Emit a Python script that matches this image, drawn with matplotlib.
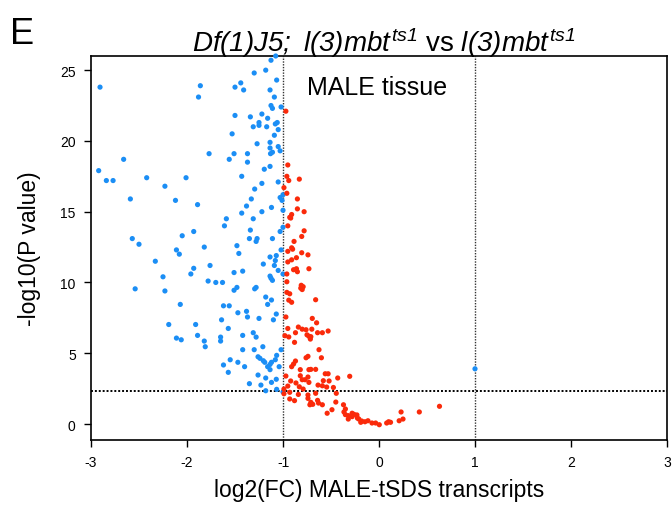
import matplotlib
matplotlib.use("Agg")
import matplotlib.pyplot as plt

plt.rcParams['font.family'] = ['Liberation Sans', 'DejaVu Sans']
plt.rcParams['mathtext.fontset'] = 'custom'
plt.rcParams['mathtext.it'] = 'Liberation Sans:italic'
plt.rcParams['mathtext.rm'] = 'Liberation Sans:italic'

# ---- data ----
down_x = [-1.076, -1.125, -1.18, -1.30, -1.066, -2.906, -1.861, -1.44, -1.50, -1.41, -1.88, -1.135, -1.09,
          -1.125, -1.11, -1.02, -1.50, -1.34, -1.22, -1.16, -1.08, -1.06, -1.25, -1.25, -1.31, -1.17, -1.05,
          -1.53, -1.09, -1.27, -1.135, -1.05, -1.03, -1.135, -1.11, -1.13, -1.77, -1.51, -1.37, -2.66, -1.56,
          -1.37, -2.92, -1.135, -1.195, -2.84, -2.77, -2.42, -2.01, -1.43, -1.05, -1.22, -2.23, -1.295, -1.0,
          -2.59, -2.12, -1.03, -1.01, -1.33, -1.89, -1.38, -1.12, -1.0, -1.43, -1.22, -1.59, -1.31, -1.61,
          -1.00, -1.93, -1.34, -1.03,
          -2.57, -2.50, -2.05, -1.35, -1.28, -1.27, -1.11, -1.02, -1.82, -2.11, -2.08, -1.48, -1.46, -1.07,
          -1.08, -1.135, -2.33, -1.205, -1.09, -1.76, -1.93, -1.05, -1.96, -1.51, -1.42, -1.00, -2.25, -1.135,
          -1.125, -1.11, -1.78, -1.70, -1.63, -2.54, -2.23, -1.51, -1.48, -1.295, -1.28, -1.18, -1.12, -1.16,
          -2.07, -1.62, -1.56, -1.47, -1.38, -1.37, -1.07, -1.25, -1.10, -1.64, -2.19, -1.91, -1.57, -1.31,
          -1.28, -1.89, -1.42, -1.65, -1.65, -2.11, -2.06, -1.82, -1.81, -1.21, -1.42, -1.30, -1.02, -1.066,
          -1.08, -1.26, -1.24, -1.205, -1.19, -1.12, -1.135, -1.16, -1.135, -1.55, -1.47, -1.40, -1.62, -1.57,
          -1.04, -1.26, -1.18, -1.07, -1.12, -1.35, -1.23, -1.18, -1.066, -1.00, 1.0]
down_y = [26.0, 25.7, 25.0, 24.8, 24.3, 23.8, 23.9, 24.1, 23.8, 23.6, 23.1, 23.6, 23.1,
          22.5, 22.3, 22.4, 21.8, 21.7, 21.9, 21.6, 21.2, 21.3, 21.3, 21.1, 21.0, 21.0, 20.8,
          20.5, 20.4, 19.8, 19.9, 19.6, 19.3, 19.5, 19.2, 19.1, 19.1, 19.1, 19.1, 18.7, 18.7,
          18.5, 17.9, 18.2, 18.0, 17.2, 17.2, 17.4, 17.4, 17.5, 17.1, 17.0, 16.8, 16.6, 16.2,
          15.9, 15.8, 16.0, 15.8, 15.9, 15.5, 15.4, 15.3, 15.1, 14.9, 15.0, 14.5, 14.5, 14.0,
          13.9, 13.6, 13.7, 13.6,
          13.1, 12.7, 13.3, 13.1, 12.9, 13.1, 13.1, 12.3, 12.5, 12.3, 12.0, 12.6, 12.05, 11.9,
          11.55, 11.8, 11.5, 11.3, 11.2, 11.2, 11.0, 10.85, 10.6, 10.7, 10.8, 10.6, 10.4, 10.45,
          10.3, 10.15, 10.1, 10.0, 10.0, 9.55, 9.4, 9.45, 9.65, 9.55, 9.65, 8.97, 8.76, 8.45,
          8.45, 8.35, 8.35, 7.86, 7.96, 7.56, 7.77, 7.46, 7.36, 7.36, 7.03, 7.03, 6.75, 6.45,
          6.14, 6.26, 6.26, 6.14, 5.86, 6.07, 5.95, 5.86, 5.46, 5.46, 5.25, 5.25, 5.25, 4.85,
          4.54, 4.75, 4.64, 4.47, 4.36, 4.36, 4.21, 4.05, 3.84, 4.54, 4.36, 4.05, 4.17, 3.65,
          4.05, 3.46, 3.25, 3.16, 2.94, 2.85, 2.75, 2.35, 2.45, 2.26, 3.9]

up_x = [-0.97, -0.95, -0.96, -0.83, -0.94, -0.99, -0.96, -0.85, -0.93, -0.91, -0.92, -0.85, -0.78, -0.95,
        -0.78, -0.805, -0.885, -0.91,
        -0.90, -0.95, -0.805, -0.74, -0.86, -0.91, -0.95, -0.73, -0.89, -0.86, -0.85, -0.96, -0.96, -0.81,
        -0.815, -0.79, -0.80, -0.96, -0.93, -0.94, -0.91, -0.66, -0.97, -0.695, -0.65, -0.95, -0.84, -0.80,
        -0.76, -0.70, -0.64, -0.59, -0.53, -0.87, -0.75, -0.73, -0.715, -0.71, -0.98, -0.94, -0.88, -0.625,
        -0.76, -0.74, -0.60, -0.87, -0.89, -0.91, -0.82, -0.73, -0.71, -0.66, -0.97, -0.82, -0.74, -0.80,
        -0.77, -0.73, -0.865, -0.92, -0.56, -0.53, -0.43, -0.305, -0.58, -0.52, -0.635, -0.59, -0.545, -0.95,
        -0.99, -0.83, -0.79, -0.475, -0.93, -0.99, -0.84, -0.74, -0.66, -0.445, -0.93, -0.88, -0.74, -0.71,
        -0.69, -0.64, -0.63, -0.45, -0.59, -0.72, -0.37, -0.49, -0.35, -0.365, -0.54, -0.35, -0.32, -0.28,
        -0.26, -0.23, -0.28, -0.225, -0.21, -0.32, -0.18, -0.146, -0.115, -0.19, -0.073, -0.035, 0.003, 0.08,
        0.10, 0.12, 0.21, 0.25, 0.23, 0.42, 0.63]
up_y = [22.1, 18.3, 17.5, 17.3, 17.2, 16.7, 16.3, 15.9, 14.6, 14.8, 14.55, 15.2, 15.0, 14.0,
        13.65, 13.25, 12.9, 12.45,
        12.35, 12.2, 12.1, 11.95, 11.75, 11.6, 11.45, 10.97, 10.9, 10.97, 10.76, 10.6, 10.05, 9.8,
        9.6, 9.7, 9.5, 9.3, 9.2, 8.75, 8.6, 8.78, 7.56, 7.46, 7.15, 6.75, 6.85, 6.7,
        6.66, 6.7, 6.45, 6.45, 6.57, 6.45, 6.3, 6.2, 6.0, 6.17, 6.24, 6.15, 5.77, 5.25,
        4.68, 4.78, 4.68, 4.45, 4.24, 4.05, 3.84, 3.84, 3.86, 3.86, 3.39, 3.41, 3.32, 3.13,
        3.13, 2.94, 2.9, 3.04, 3.55, 3.55, 3.25, 3.37, 3.06, 3.04, 2.75, 2.70, 2.61, 2.68,
        2.47, 2.63, 2.47, 2.58, 2.24, 2.14, 2.09, 2.05, 2.17, 2.17, 1.77, 1.65, 1.81, 1.53,
        1.39, 1.67, 1.48, 1.55, 1.36, 1.36, 1.36, 1.01, 1.06, 0.85, 0.76, 0.66, 0.59, 0.76,
        0.68, 0.64, 0.52, 0.42, 0.35, 0.35, 0.21, 0.16, 0.23, 0.12, 0.07, 0.07, -0.05, 0.07,
        0.16, 0.12, 0.23, 0.35, 0.85, 0.85, 1.25]

x_ticks = [-3, -2, -1, 0, 1, 2, 3]
y_ticks = [0, 5, 10, 15, 20, 25]
fc_cut = [-1, 1]
p_cut = 2.3

fig = plt.figure(figsize=(6.72, 5.06), dpi=100)
ax = fig.add_axes([91/672, 1-441/506, (667-91)/672, (441-57)/506])

ax.scatter(down_x, down_y, s=14, c='#1b8ef5', edgecolors='none', zorder=3, clip_on=False)
ax.scatter(up_x, up_y, s=14, c='#fa2a0a', edgecolors='none', zorder=3, clip_on=False)

for v in fc_cut:
    ax.axvline(v, color='#333333', linestyle=(0, (1, 1)), linewidth=1.0, zorder=2)
ax.axhline(p_cut, color='black', linestyle=(0, (1, 1)), linewidth=1.4, zorder=2)

ax.set_xlim(-3, 3)
ax.set_ylim(-1.13, 26.0)
ax.set_xticks(x_ticks)
ax.set_xticklabels([str(t) for t in x_ticks])
ax.set_yticks(y_ticks)
ax.tick_params(direction='out', length=5, width=1.0, labelsize=10, pad=6)
for sp in ax.spines.values():
    sp.set_linewidth(1.2)

ax.text(0.375, 0.92, 'MALE tissue', transform=ax.transAxes, fontsize=18,
        ha='left', va='center')

ax.set_xlabel('log2(FC) MALE-tSDS transcripts', fontsize=16.5, labelpad=6)
ax.set_ylabel('-log10(P value)', fontsize=16.5, labelpad=14)

fig.text(384/672, 1-52/506,
         r'$Df(1)J5;\ l(3)mbt^{ts1}$ vs $l(3)mbt^{ts1}$',
         fontsize=20, ha='center', va='baseline')
fig.text(10/672, 1-44/506, 'E', fontsize=26, ha='left', va='baseline')

fig.savefig('out.png', dpi=100)
